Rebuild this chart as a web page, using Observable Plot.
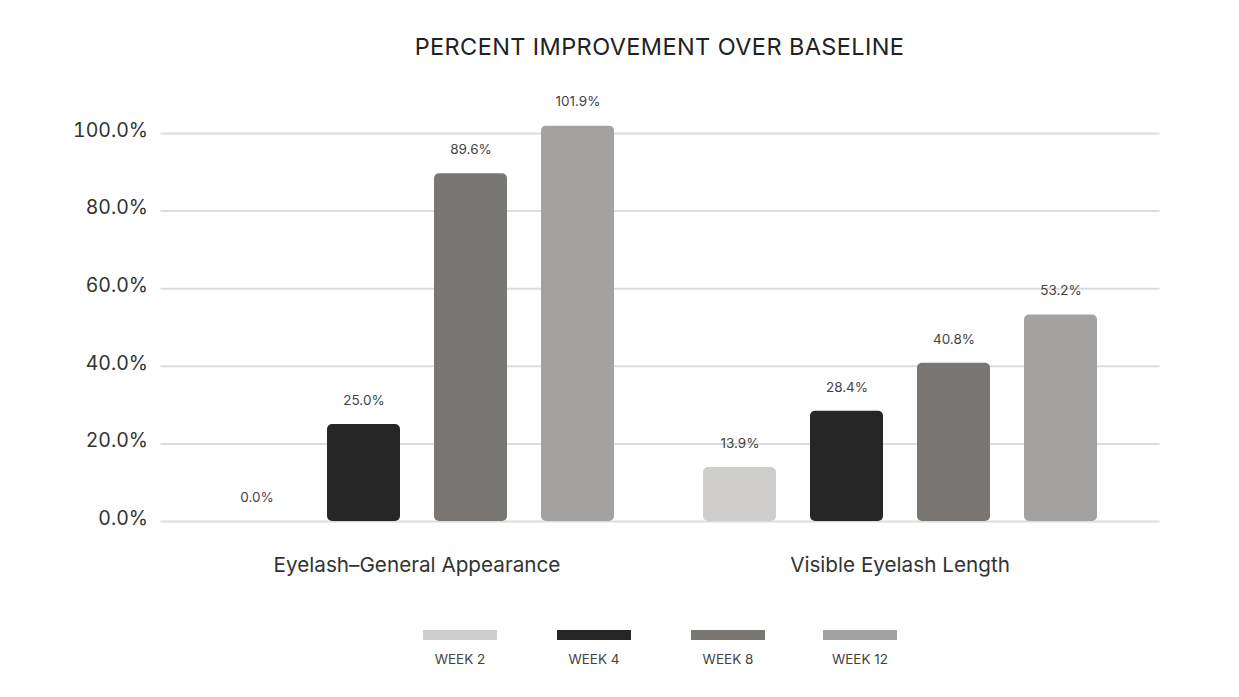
<!DOCTYPE html>
<html>
<head>
<meta charset="utf-8">
<script src="https://cdn.jsdelivr.net/npm/d3@7"></script>
<script src="https://cdn.jsdelivr.net/npm/@observablehq/plot@0.6"></script>
<style>
  html, body { margin: 0; padding: 0; background: #fff; }
  body { position: relative; width: 1239px; height: 697px; overflow: hidden; font-family: Inter, "Noto Sans", sans-serif; }
  #title { position: absolute; left: 160px; width: 999px; top: 32px; text-align: center; font-size: 23.5px; color: #222; letter-spacing: 0.4px; line-height: 30px; }
  #chart { position: absolute; left: 0; top: 80px; }
  #legend { position: absolute; top: 630px; left: 0; width: 1239px; height: 60px; }
  .item { position: absolute; width: 110px; text-align: center; }
  .sw { width: 74px; height: 10px; margin: 0 auto; }
  .lb { font-size: 13.5px; color: #444; margin-top: 11px; }
</style>
</head>
<body>
<div id="title">PERCENT IMPROVEMENT OVER BASELINE</div>
<div id="chart"></div>
<div id="legend"></div>
<script>
const categories = ["Eyelash–General Appearance", "Visible Eyelash Length"];
const weeks = ["WEEK 2", "WEEK 4", "WEEK 8", "WEEK 12"];
const generalAppearance = [0.0, 25.0, 89.6, 101.9];
const visibleLength = [13.9, 28.4, 40.8, 53.2];
const weekColors = ["#cfcecd", "#262626", "#7a7673", "#a3a2a1"];
const yTicks = [0, 20, 40, 60, 80, 100];

const seriesByCategory = [generalAppearance, visibleLength];
const data = [];
categories.forEach((c, i) => weeks.forEach((w, j) => data.push({category: c, week: w, value: seriesByCategory[i][j]})));
const gridLeft = yTicks.map(v => ({category: categories[0], value: v}));
const gridRight = yTicks.map(v => ({category: categories[1], value: v}));

const fmt = d => d.toFixed(1) + "%";

const chart = Plot.plot({
  width: 1239,
  height: 520,
  marginTop: 53,
  marginBottom: 79,
  marginLeft: 160,
  marginRight: 80,
  style: {fontFamily: "Inter, 'Noto Sans', sans-serif", color: "#333", background: "transparent"},
  fx: {domain: categories, padding: 0, label: null, range: [174.5, 1140.5]},
  x: {domain: weeks, paddingInner: 0.318, paddingOuter: 0.41, axis: null},
  y: {domain: [0, 100], label: null},
  color: {domain: weeks, range: weekColors},
  marks: [
    Plot.ruleY(gridLeft, {fx: "category", y: "value", stroke: "#dcdcdc", strokeWidth: 2, insetLeft: -14.5, insetRight: 0}),
    Plot.ruleY(gridRight, {fx: "category", y: "value", stroke: "#dcdcdc", strokeWidth: 2, insetLeft: 0, insetRight: -18.5}),
    Plot.barY(data, {fx: "category", x: "week", y: "value", fill: "week", rx: 5}),
    Plot.text(data, {fx: "category", x: "week", y: "value", text: d => fmt(d.value), dy: -24, fontSize: 13.5, fill: "#444"}),
    Plot.axisY(yTicks, {tickSize: 0, tickPadding: 27.5, dy: -3, tickFormat: fmt, fontSize: 19.5, fill: "#333", label: null}),
    Plot.axisFx({anchor: "bottom", tickSize: 0, tickPadding: 36, fontSize: 20.7, fill: "#333", label: null})
  ]
});
document.getElementById("chart").appendChild(chart);

const legend = document.getElementById("legend");
const legendCenters = [460, 594, 728, 860];
weeks.forEach((w, i) => {
  const it = document.createElement("div");
  it.className = "item";
  it.style.left = (legendCenters[i] - 55) + "px";
  it.innerHTML = `<div class="sw" style="background:${weekColors[i]}"></div><div class="lb">${w}</div>`;
  legend.appendChild(it);
});
</script>
</body>
</html>
